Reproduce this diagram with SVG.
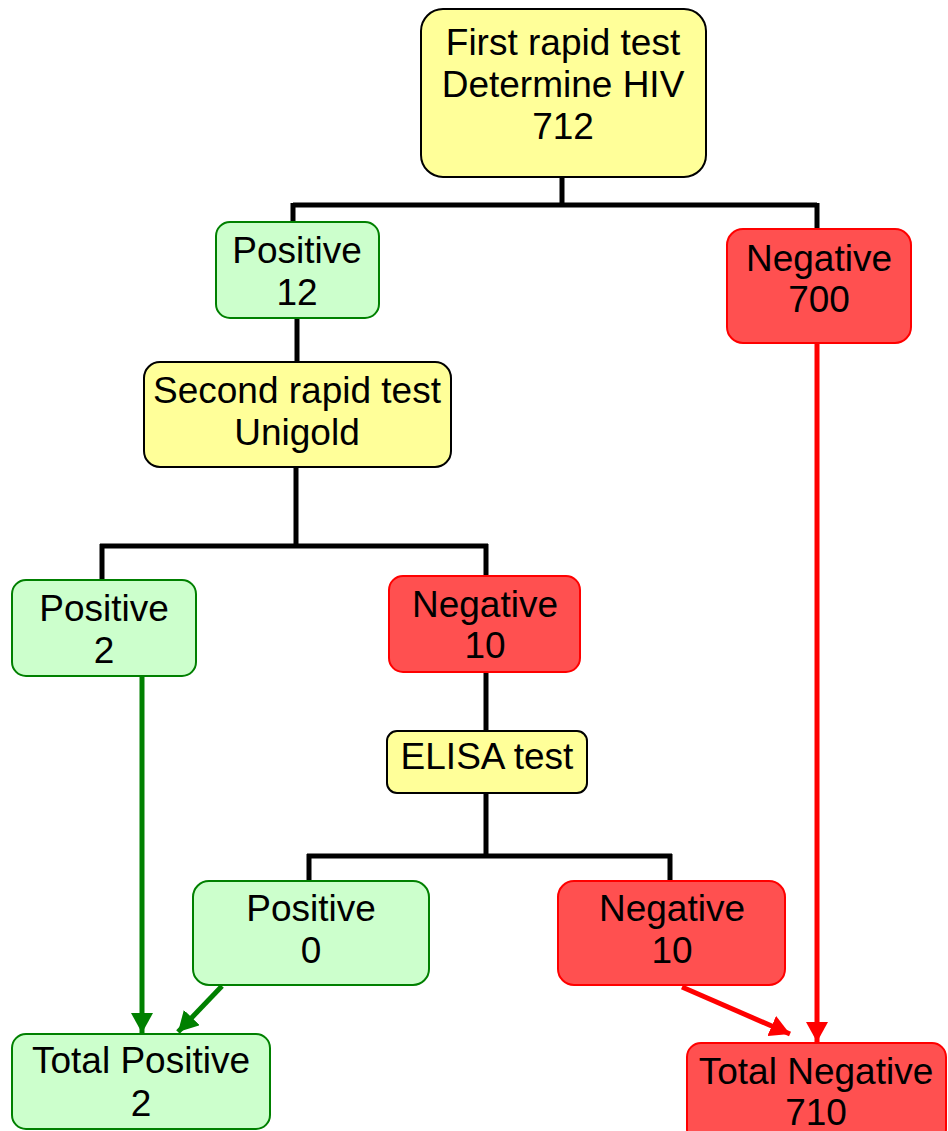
<svg xmlns="http://www.w3.org/2000/svg" width="948" height="1131" viewBox="0 0 948 1131">
<style>
text{font-family:"Liberation Sans",Arial,sans-serif;font-size:37px;fill:#000;text-anchor:middle}
.y{fill:#FFFF99;stroke:#000;stroke-width:2}
.g{fill:#CCFFCC;stroke:#008000;stroke-width:2}
.r{fill:#FF5050;stroke:#FF0000;stroke-width:2}
.c{fill:none;stroke:#000;stroke-width:5}
.ga{fill:none;stroke:#008000;stroke-width:5}
.ra{fill:none;stroke:#FF0000;stroke-width:5}
</style>
<defs>
<marker id="ag" markerUnits="userSpaceOnUse" markerWidth="22" markerHeight="22" viewBox="0 0 22 22" refX="20" refY="11" orient="auto"><path d="M0,0 L20,11 L0,22 Z" fill="#008000"/></marker>
<marker id="ar" markerUnits="userSpaceOnUse" markerWidth="22" markerHeight="22" viewBox="0 0 22 22" refX="20" refY="11" orient="auto"><path d="M0,0 L20,11 L0,22 Z" fill="#FF0000"/></marker>
</defs>
<g id="connectors">
<path class="c" d="M562,177 V205 M293,205 H817 M293,203 V222 M817,203 V229"/>
<path class="c" d="M297,318 V362"/>
<path class="c" d="M296,467 V546 M100,546 H488 M102,544 V580 M486,544 V576"/>
<path class="c" d="M486,672 V731"/>
<path class="c" d="M486,793 V856 M307,856 H672 M309,854 V881 M670,854 V881"/>
<path class="ga" d="M142,676 V1033" marker-end="url(#ag)"/>
<path class="ga" d="M222,986 L178,1032" marker-end="url(#ag)"/>
<path class="ra" d="M817,343 V1042" marker-end="url(#ar)"/>
<path class="ra" d="M682,987 L790,1034" marker-end="url(#ar)"/>
</g>
<g id="n-first"><rect class="y" x="421" y="9" width="285" height="168" rx="22"/><text x="563" y="55">First rapid test</text><text x="563" y="97">Determine HIV</text><text x="563" y="139">712</text></g>
<g id="n-pos12"><rect class="g" x="216" y="222" width="163" height="96" rx="14"/><text x="297" y="263">Positive</text><text x="297" y="305">12</text></g>
<g id="n-neg700"><rect class="r" x="727" y="229" width="184" height="114" rx="16"/><text x="819" y="271">Negative</text><text x="819" y="312">700</text></g>
<g id="n-second"><rect class="y" x="144" y="362" width="307" height="105" rx="16"/><text x="297" y="403">Second rapid test</text><text x="297" y="445">Unigold</text></g>
<g id="n-pos2"><rect class="g" x="12" y="580" width="184" height="96" rx="14"/><text x="104" y="621">Positive</text><text x="104" y="663">2</text></g>
<g id="n-neg10a"><rect class="r" x="389" y="576" width="191" height="96" rx="14"/><text x="485" y="617">Negative</text><text x="485" y="658">10</text></g>
<g id="n-elisa"><rect class="y" x="387" y="731" width="200" height="62" rx="10"/><text x="487" y="769">ELISA test</text></g>
<g id="n-pos0"><rect class="g" x="193" y="881" width="236" height="104" rx="16"/><text x="311" y="921">Positive</text><text x="311" y="963">0</text></g>
<g id="n-neg10b"><rect class="r" x="558" y="881" width="227" height="104" rx="16"/><text x="672" y="921">Negative</text><text x="672" y="963">10</text></g>
<g id="n-totpos"><rect class="g" x="12" y="1034" width="258" height="95" rx="14"/><text x="141" y="1073">Total Positive</text><text x="141" y="1116">2</text></g>
<g id="n-totneg"><rect class="r" x="687" y="1043" width="259" height="100" rx="14"/><text x="816" y="1084">Total Negative</text><text x="816" y="1125">710</text></g>
</svg>
